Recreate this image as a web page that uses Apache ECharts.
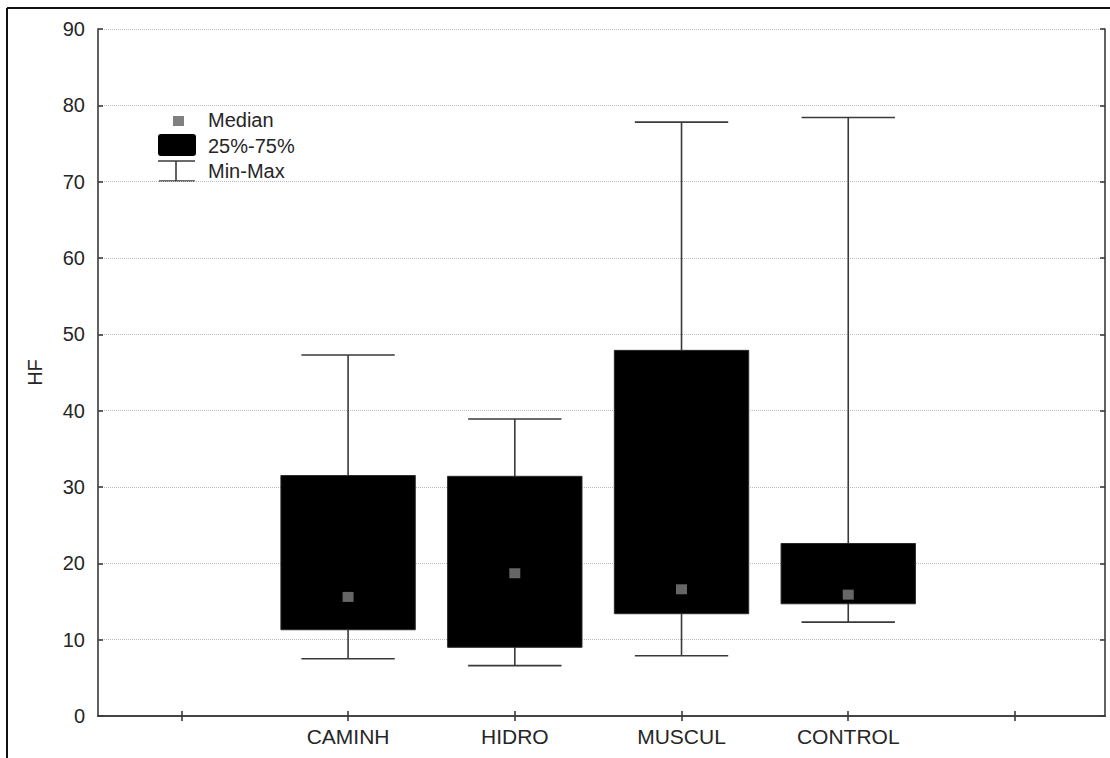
<!DOCTYPE html>
<html>
<head>
<meta charset="utf-8">
<title>HF</title>
<script src="https://cdn.jsdelivr.net/npm/echarts@6/dist/echarts.min.js"></script>
<style>
  html, body { margin: 0; padding: 0; background: #fff; }
  #chart { width: 1110px; height: 758px; }
</style>
</head>
<body>
<div id="chart"></div>
<script>
// Groups and their box-plot statistics (HF)
const categories = ['CAMINH', 'HIDRO', 'MUSCUL', 'CONTROL'];
const minVals    = [7.5, 6.6, 7.9, 12.3];
const q1Vals     = [11.3, 9.0, 13.4, 14.7];
const medianVals = [15.6, 18.7, 16.6, 15.9];
const q3Vals     = [31.5, 31.4, 47.9, 22.6];
const maxVals    = [47.3, 38.9, 77.8, 78.4];
const yTicks     = [0, 10, 20, 30, 40, 50, 60, 70, 80, 90];

// Slot 1 and slot 6 are empty, the groups sit in slots 2..5
const slotTicks = [1, 2, 3, 4, 5, 6];
const groupSlot = i => i + 2;

const FRAME = '#3a3a3a';
const TEXT = '#262626';
const FONT = 'Liberation Sans, Arial, sans-serif';
const BOX_HALF = 0.403;
const CAP_HALF = 0.28;

const boxData = categories.map((c, i) => [groupSlot(i), minVals[i], q1Vals[i], q3Vals[i], maxVals[i]]);
const medianData = categories.map((c, i) => [groupSlot(i), medianVals[i]]);

function renderBox(params, api) {
  const x = api.value(0);
  const lo = api.value(1), q1 = api.value(2), q3 = api.value(3), hi = api.value(4);
  const tl = api.coord([x - BOX_HALF, q3]);
  const br = api.coord([x + BOX_HALF, q1]);
  const pHi = api.coord([x, hi]), pQ3 = api.coord([x, q3]);
  const pQ1 = api.coord([x, q1]), pLo = api.coord([x, lo]);
  const hiL = api.coord([x - CAP_HALF, hi]), hiR = api.coord([x + CAP_HALF, hi]);
  const loL = api.coord([x - CAP_HALF, lo]), loR = api.coord([x + CAP_HALF, lo]);
  const ls = { stroke: FRAME, lineWidth: 1.6 };
  return {
    type: 'group',
    children: [
      { type: 'line', shape: { x1: pHi[0], y1: pHi[1], x2: pQ3[0], y2: pQ3[1] }, style: ls },
      { type: 'line', shape: { x1: pQ1[0], y1: pQ1[1], x2: pLo[0], y2: pLo[1] }, style: ls },
      { type: 'line', shape: { x1: hiL[0], y1: hiL[1], x2: hiR[0], y2: hiR[1] }, style: ls },
      { type: 'line', shape: { x1: loL[0], y1: loL[1], x2: loR[0], y2: loR[1] }, style: ls },
      { type: 'rect', shape: { x: tl[0], y: tl[1], width: br[0] - tl[0], height: br[1] - tl[1] },
        style: { fill: '#000', stroke: '#2a2a2a', lineWidth: 1 } }
    ]
  };
}

const chart = echarts.init(document.getElementById('chart'), null, { renderer: 'svg' });

const axisLineStyle = { show: true, lineStyle: { color: FRAME, width: 1.6 } };
const innerTick = { show: true, inside: true, length: 5, lineStyle: { color: FRAME, width: 1.6 } };

chart.setOption({
  animation: false,
  backgroundColor: '#fff',
  grid: { left: 98, top: 29, right: 5, bottom: 42, containLabel: false },
  xAxis: [
    {
      type: 'value', position: 'bottom', min: 0.5, max: 6.54,
      axisLine: axisLineStyle,
      axisTick: Object.assign({}, innerTick, { customValues: slotTicks }),
      axisLabel: {
        customValues: categories.map((c, i) => groupSlot(i)),
        formatter: v => categories[v - 2] || '',
        fontSize: 21, color: TEXT, fontFamily: FONT, margin: 10
      },
      splitLine: { show: false }
    },
    {
      type: 'value', position: 'top', min: 0.5, max: 6.54,
      axisLine: axisLineStyle,
      axisTick: Object.assign({}, innerTick, { customValues: slotTicks }),
      axisLabel: { show: false },
      splitLine: { show: false }
    }
  ],
  yAxis: [
    {
      type: 'value', position: 'left', min: yTicks[0], max: yTicks[yTicks.length - 1], interval: 10,
      name: 'HF', nameLocation: 'middle', nameGap: 53,
      nameTextStyle: { fontSize: 20, color: TEXT, fontFamily: FONT },
      axisLine: axisLineStyle,
      axisTick: innerTick,
      axisLabel: { fontSize: 20, color: TEXT, fontFamily: FONT, margin: 13 },
      splitLine: { show: true, lineStyle: { color: '#bdbdbd', type: 'dotted', width: 1 } }
    },
    {
      type: 'value', position: 'right', min: yTicks[0], max: yTicks[yTicks.length - 1], interval: 10,
      axisLine: axisLineStyle,
      axisTick: innerTick,
      axisLabel: { show: false },
      splitLine: { show: false }
    }
  ],
  series: [
    {
      name: 'Min-Max / 25%-75%',
      type: 'custom',
      xAxisIndex: 0, yAxisIndex: 0,
      renderItem: renderBox,
      encode: { x: 0, y: [1, 2, 3, 4] },
      data: boxData,
      z: 2
    },
    {
      name: 'Median',
      type: 'scatter',
      xAxisIndex: 0, yAxisIndex: 0,
      symbol: 'rect',
      symbolSize: [11, 10],
      itemStyle: { color: '#808080' },
      data: medianData,
      z: 3
    }
  ],
  graphic: [
    // outer frame (top and left edges)
    { type: 'line', shape: { x1: 7, y1: 8, x2: 1110, y2: 8 }, style: { stroke: '#111', lineWidth: 2 } },
    { type: 'line', shape: { x1: 7, y1: 8, x2: 7, y2: 758 }, style: { stroke: '#111', lineWidth: 2 } },
    // key
    { type: 'rect', shape: { x: 173, y: 116, width: 11, height: 10 }, style: { fill: '#808080' } },
    { type: 'text', x: 208, y: 120, style: { text: 'Median', fontSize: 20, fontFamily: FONT, fill: TEXT, verticalAlign: 'middle' } },
    { type: 'rect', shape: { x: 158, y: 134, width: 38, height: 22, r: 3 }, style: { fill: '#000' } },
    { type: 'text', x: 208, y: 146, style: { text: '25%-75%', fontSize: 20, fontFamily: FONT, fill: TEXT, verticalAlign: 'middle' } },
    { type: 'line', shape: { x1: 158, y1: 161, x2: 195, y2: 161 }, style: { stroke: FRAME, lineWidth: 1.6 } },
    { type: 'line', shape: { x1: 176, y1: 161, x2: 176, y2: 181 }, style: { stroke: FRAME, lineWidth: 1.6 } },
    { type: 'line', shape: { x1: 159, y1: 181, x2: 195, y2: 181 }, style: { stroke: FRAME, lineWidth: 1.6 } },
    { type: 'text', x: 208, y: 171, style: { text: 'Min-Max', fontSize: 20, fontFamily: FONT, fill: TEXT, verticalAlign: 'middle' } }
  ]
});
</script>
</body>
</html>
